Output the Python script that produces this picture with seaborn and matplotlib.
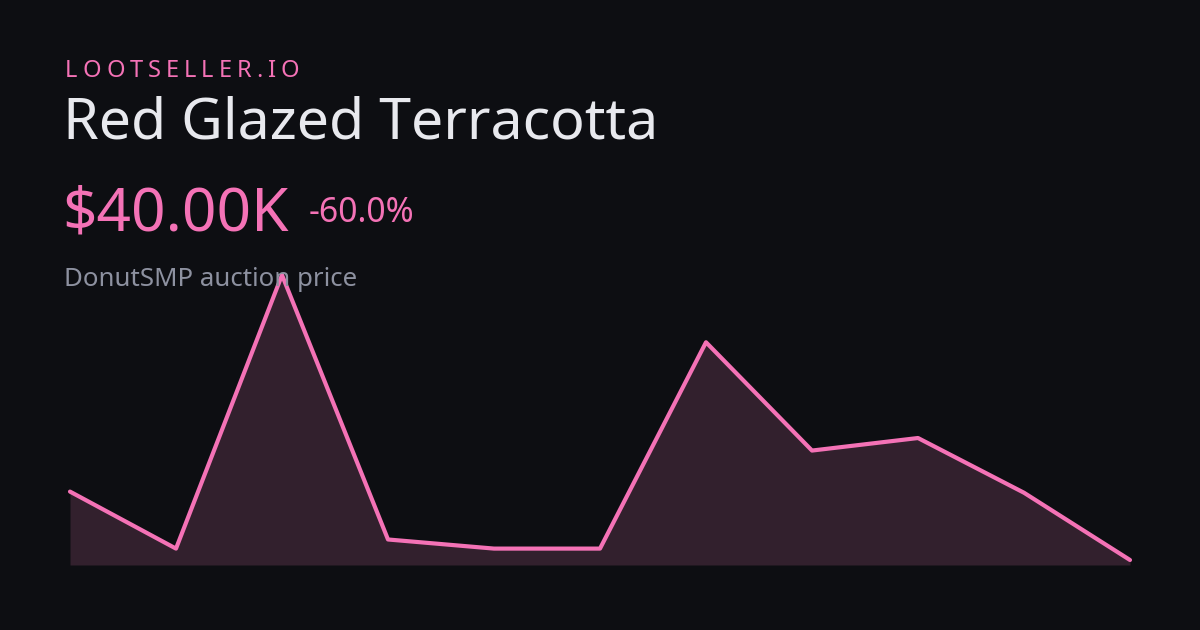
import numpy as np
import pandas as pd
import matplotlib
matplotlib.use("Agg")
import matplotlib.pyplot as plt
import seaborn as sns

# --------------------------
# Data (prices in $K)
# --------------------------
points = list(range(11))
prices = [100, 50, 290, 58, 50, 50, 231, 136, 147, 99, 40]

brand = "LOOTSELLER.IO"
item_name = "Red Glazed Terracotta"
price_label = "$40.00K"
change_label = "-60.0%"
caption = "DonutSMP auction price"

BG = "#0d0e12"
PINK = "#f472b6"
FILL = "#32202d"

sns.set_style("dark")
plt.rcParams["font.family"] = ["Noto Sans", "DejaVu Sans"]

df = pd.DataFrame({"point": points, "price": prices})

fig = plt.figure(figsize=(12, 6.3), dpi=100, facecolor=BG)

# chart area: x from 70px to 1130px, y from 275px (top) to 565px (bottom)
ax = fig.add_axes([70 / 1200, (630 - 565) / 630, 1060 / 1200, 290 / 630])
ax.set_facecolor(BG)

lo = min(prices) - (max(prices) - min(prices)) * 5 / 285
ax.fill_between(df["point"], df["price"], lo, color=FILL, lw=0, zorder=1)
sns.lineplot(data=df, x="point", y="price", ax=ax, color=PINK, linewidth=3,
             zorder=3, clip_on=False)
ax.set_xlim(0, len(points) - 1)
ax.set_ylim(lo, max(prices))
ax.set_axis_off()

# --------------------------
# Header text
# --------------------------
# spaced-out brand label, drawn letter by letter
renderer = fig.canvas.get_renderer()
x = 65
for ch in brand:
    t = fig.text(x / 1200, 1 - 71 / 630, ch, color=PINK, fontsize=17,
                 va="center", ha="left")
    w = t.get_window_extent(renderer).width
    x += w + 5.0

fig.text(63 / 1200, 1 - 124 / 630, item_name, color="#e8e9ee", fontsize=41.3,
         va="center", ha="left")
fig.text(62 / 1200, 1 - 214 / 630, price_label, color=PINK, fontsize=43.4,
         va="center", ha="left")
fig.text(309 / 1200, 1 - 213 / 630, change_label, color=PINK, fontsize=24.3,
         va="center", ha="left")
fig.text(64 / 1200, 1 - 279 / 630, caption, color="#8d91a0", fontsize=18.6,
         va="center", ha="left", zorder=0)

fig.savefig("out.png", dpi=100, facecolor=BG)
plt.close(fig)
